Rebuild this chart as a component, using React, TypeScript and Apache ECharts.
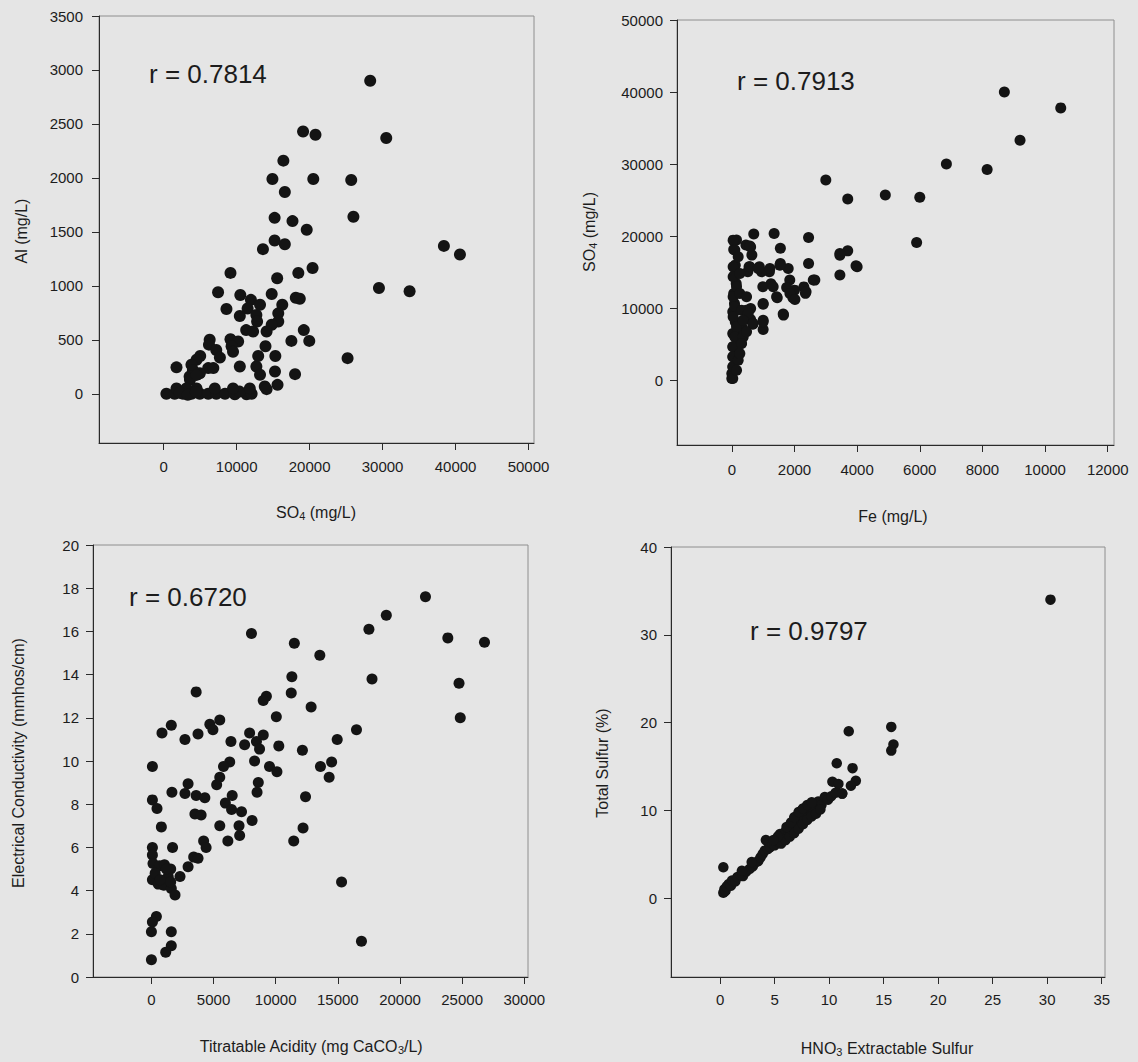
import React, { useEffect, useRef } from "react";
import * as echarts from "echarts";

// ---------- tick values ----------
const p1XTicks = [0, 10000, 20000, 30000, 40000, 50000];
const p1YTicks = [0, 500, 1000, 1500, 2000, 2500, 3000, 3500];
const p2XTicks = [0, 2000, 4000, 6000, 8000, 10000, 12000];
const p2YTicks = [0, 10000, 20000, 30000, 40000, 50000];
const p3XTicks = [0, 5000, 10000, 15000, 20000, 25000, 30000];
const p3YTicks = [0, 2, 4, 6, 8, 10, 12, 14, 16, 18, 20];
const p4XTicks = [0, 5, 10, 15, 20, 25, 30, 35];
const p4YTicks = [0, 10, 20, 30, 40];

// ---------- correlation labels ----------
const rLabels = ["r = 0.7814", "r = 0.7913", "r = 0.6720", "r = 0.9797"];

// ---------- panel 1: SO4 (x) vs Al (y) ----------
const p1Data = [
  [28300, 2900], [19100, 2430], [20800, 2400], [30500, 2370], [16400, 2160], [14900, 1990],
  [20500, 1990], [25700, 1980], [16600, 1870], [15200, 1630], [17650, 1600], [26000, 1640],
  [19600, 1520], [15200, 1420], [16600, 1385], [13600, 1340], [38400, 1370], [40600, 1290],
  [20400, 1165], [18450, 1120], [9150, 1120], [15550, 1070], [29500, 980], [33700, 950],
  [7450, 940], [10500, 915], [14800, 925], [18100, 890], [18650, 880], [8600, 785],
  [11950, 870], [13200, 825], [16250, 825], [11500, 790], [10430, 720], [12700, 730],
  [15700, 745], [12800, 670], [15700, 670], [14800, 640], [11300, 590], [12250, 577],
  [14100, 577], [19200, 590], [19950, 490], [17500, 490], [6300, 500], [6200, 455],
  [9150, 505], [10200, 485], [9300, 440], [7200, 405], [7700, 335], [5000, 350],
  [4500, 315], [3800, 270], [1750, 245], [4000, 220], [6100, 238], [6800, 238],
  [4950, 190], [3550, 160], [10430, 253], [12700, 253], [13950, 440], [12950, 350],
  [15300, 350], [15250, 207], [13200, 176], [18000, 182], [25200, 330], [13850, 68],
  [14100, 43], [15600, 83], [9500, 390], [3600, 130], [4500, 175],
  [365, 0], [1500, 0], [2650, 0], [3800, 0], [4950, 0], [6100, 0], [7200, 0], [8400, 0],
  [9750, -5], [11350, -5], [12050, 0], [10400, 20], [1750, 50], [3100, 50], [4500, 50],
  [7000, 50], [9500, 50], [11800, 50], [2200, 10], [3300, -10], [4400, 15],
];

// ---------- panel 2: Fe (x) vs SO4 (y) ----------
const p2Data = [
  [8700, 40000], [10500, 37800], [9200, 33300], [6850, 30000], [8150, 29250], [3000, 27800],
  [3700, 25150], [4900, 25700], [6000, 25400], [5900, 19100], [2450, 19800], [2450, 16200],
  [3450, 17350], [3700, 17950], [4000, 15750], [3450, 14600], [2600, 13900], [2300, 12950],
  [2350, 12050], [2000, 12500], [1950, 11450], [1650, 9030], [700, 20300], [1350, 20350],
  [1550, 18300], [1550, 16200], [1800, 15500], [1850, 13900], [1750, 12850], [1450, 11450],
  [1250, 13400], [1200, 15050], [950, 15050], [880, 15750], [990, 12960], [1000, 10550],
  [1000, 8330], [1000, 7050], [550, 15750], [600, 18500], [640, 17360], [450, 18750],
  [510, 15050], [600, 9950], [460, 9720], [600, 8430], [670, 7780], [350, 7180],
  [300, 5090], [190, 3700], [140, 6480], [150, 19450], [60, 18150], [110, 15970],
  [85, 14580], [140, 13430], [60, 12040], [85, 10650], [30, 9490], [110, 8100],
  [30, 6480], [30, 4630], [30, 3240], [30, 1850], [30, 230], [0, 925],
  [42, 19440], [96, 18060], [42, 15740], [42, 14350], [150, 12960], [42, 11580],
  [96, 10200], [42, 8800], [150, 7400], [96, 6000], [42, 4630], [42, 3240], [42, 1850],
  [0, 230], [256, 12040], [310, 9720], [362, 6000], [203, 2770], [150, 1390], [256, 14820],
  [203, 17130], [470, 11580], [523, 9260], [575, 18610], [575, 15740], [840, 15510],
  [1215, 15510], [1535, 15970], [1320, 12960], [1430, 11580], [1855, 12040], [2015, 11210],
  [2370, 12270], [2650, 13890], [1640, 9170], [362, 8330], [680, 7870], [470, 6710],
  [256, 3700], [310, 5090], [3450, 17590], [3965, 15880], [1000, 10650], [1000, 8100],
];

// ---------- panel 3: Titratable acidity (x) vs EC (y) ----------
const p3Data = [
  [22050, 17.6], [18900, 16.75], [17500, 16.1], [8050, 15.9], [23850, 15.7], [26800, 15.5],
  [11500, 15.45], [13550, 14.9], [11300, 13.9], [17750, 13.8], [24750, 13.6], [3600, 13.2],
  [11250, 13.15], [9250, 13.0], [9000, 12.8], [12850, 12.5], [10050, 12.05], [24850, 12.0],
  [5500, 11.9], [4700, 11.7], [4950, 11.45], [1600, 11.65], [850, 11.3], [3750, 11.25],
  [2700, 11.0], [6400, 10.9], [7900, 11.3], [9000, 11.2], [7500, 10.75], [8450, 10.9],
  [8700, 10.55], [8300, 10.0], [10250, 10.7], [12150, 10.5], [14950, 11.0], [16500, 11.45],
  [9500, 9.75], [10100, 9.5], [13600, 9.75], [14500, 9.95], [14300, 9.25], [80, 9.75],
  [6300, 9.95], [5800, 9.75], [5500, 9.25], [5250, 8.9], [2950, 8.95], [2700, 8.5],
  [3600, 8.4], [4300, 8.3], [1650, 8.55], [6500, 8.4], [8600, 9.0], [8500, 8.55],
  [12400, 8.35], [80, 8.2], [450, 7.8], [3500, 7.55], [4000, 7.5], [5950, 8.05],
  [6450, 7.75], [7250, 7.65], [8100, 7.25], [800, 6.95], [5500, 7.0], [7050, 7.0],
  [7100, 6.55], [12200, 6.9], [11450, 6.3], [6150, 6.3], [4200, 6.3], [4400, 6.0],
  [1700, 6.0], [80, 6.0], [80, 5.65], [130, 5.25], [650, 5.15], [1050, 5.2],
  [1550, 5.0], [2300, 4.65], [2950, 5.1], [3400, 5.55], [3750, 5.5], [80, 4.5],
  [550, 4.3], [1000, 4.25], [1600, 4.1], [1900, 3.8], [1350, 4.65], [1550, 4.4],
  [15300, 4.4], [400, 2.8], [80, 2.55], [0, 2.1], [1600, 2.1], [1600, 1.45],
  [1150, 1.15], [0, 0.8], [16900, 1.65], [300, 4.8], [700, 4.5], [1200, 5.0],
];

// ---------- panel 4: HNO3 extractable S (x) vs total S (y) ----------
const p4Data = [
  [30.3, 34.0], [15.7, 19.5], [11.8, 19.0], [15.9, 17.5], [15.7, 16.8], [10.7, 15.35],
  [12.15, 14.8], [10.3, 13.25], [10.85, 13.0], [12.45, 13.35], [12.0, 12.8], [11.2, 11.9],
  [0.3, 3.5], [0.3, 0.6], [0.4, 1.0], [0.5, 0.8], [0.6, 1.3], [0.8, 1.6], [1.0, 1.4],
  [1.1, 2.0], [1.4, 1.9], [1.6, 2.4], [1.9, 2.6], [2.1, 2.5], [2.4, 3.0], [2.7, 3.3],
  [3.0, 3.6], [3.2, 4.0], [3.5, 4.2], [3.7, 4.6], [3.9, 5.0], [4.1, 5.4], [4.2, 6.6],
  [4.4, 5.6], [4.6, 5.8], [4.8, 6.2], [5.0, 6.0], [5.2, 6.5], [5.4, 6.9], [5.5, 7.3],
  [5.7, 6.6], [5.9, 7.1], [6.0, 7.6], [6.2, 7.0], [6.3, 8.0], [6.5, 7.6], [6.6, 8.4],
  [6.8, 7.9], [6.9, 8.8], [7.0, 9.3], [7.1, 8.3], [7.3, 9.6], [7.4, 8.8], [7.5, 10.0],
  [7.7, 9.2], [7.9, 10.3], [8.0, 9.6], [8.2, 10.5], [8.4, 9.9], [8.6, 10.7], [8.8, 10.2],
  [9.0, 11.0], [9.3, 10.6], [9.6, 11.5], [9.9, 11.2], [10.2, 11.6], [10.6, 12.0], [11.2, 11.9],
  [5.6, 6.2], [6.0, 6.6], [6.4, 7.0], [6.8, 7.4], [7.2, 7.9], [7.6, 8.4], [8.0, 8.9],
  [8.4, 9.3], [8.8, 9.6], [9.2, 10.1], [6.1, 8.1], [6.5, 8.6], [6.8, 9.2], [7.2, 9.8],
  [7.6, 10.2], [8.0, 10.6], [8.4, 10.9], [5.3, 7.0], [4.9, 6.6], [2.0, 3.1], [2.9, 4.1],
];

const FONT = '"Liberation Sans", Arial, Helvetica, sans-serif';
const INK = "#1c1c1c";
const DOT = "#141414";
const BG = "#e5e5e5";

function makeX(i: number, min: number, max: number, ticks: number[], margin: number) {
  return {
    type: "value",
    gridIndex: i,
    min,
    max,
    axisLine: { show: true, onZero: false, lineStyle: { color: "#2a2a2a", width: 1 } },
    axisTick: { show: true, inside: false, length: 7, customValues: ticks, lineStyle: { color: "#2a2a2a" } },
    axisLabel: {
      customValues: ticks,
      formatter: (v: number) => String(v),
      margin,
      color: INK,
      fontSize: 15,
      fontFamily: FONT,
    },
    splitLine: { show: false },
  };
}

function makeY(i: number, min: number, max: number, ticks: number[], margin: number) {
  return {
    type: "value",
    gridIndex: i,
    min,
    max,
    axisLine: { show: true, onZero: false, lineStyle: { color: "#2a2a2a", width: 1 } },
    axisTick: { show: true, inside: false, length: 7, customValues: ticks, lineStyle: { color: "#2a2a2a" } },
    axisLabel: {
      customValues: ticks,
      formatter: (v: number) => String(v),
      margin,
      color: INK,
      fontSize: 15,
      fontFamily: FONT,
    },
    splitLine: { show: false },
  };
}

function title(x: number, y: number, text: string, rotate: boolean, rich?: boolean) {
  const base: any = {
    type: "text",
    x,
    y,
    rotation: rotate ? Math.PI / 2 : 0,
    silent: true,
    style: {
      text,
      fill: INK,
      fontSize: 16,
      fontFamily: FONT,
      align: "center",
      verticalAlign: "middle",
    },
  };
  if (rich) {
    base.style.rich = {
      n: { fontSize: 16, fontFamily: FONT, fill: INK },
      s: { fontSize: 11, fontFamily: FONT, fill: INK, padding: [8, 0, 0, 0] },
    };
  }
  return base;
}

function rText(x: number, y: number, text: string) {
  return {
    type: "text",
    x,
    y,
    silent: true,
    style: {
      text,
      fill: INK,
      fontSize: 26,
      fontFamily: FONT,
      align: "left",
      verticalAlign: "middle",
    },
  };
}

export default function App() {
  const ref = useRef<HTMLDivElement>(null);

  useEffect(() => {
    if (!ref.current) return;
    const chart = echarts.init(ref.current, undefined, { renderer: "svg" });
    const gridStyle = { show: true, borderColor: "#8e8e8e", borderWidth: 1, backgroundColor: "transparent" };
    const option: any = {
      animation: false,
      backgroundColor: BG,
      textStyle: { fontFamily: FONT },
      grid: [
        { ...gridStyle, left: 99, top: 16, width: 435, height: 427 },
        { ...gridStyle, left: 677, top: 20, width: 437, height: 425 },
        { ...gridStyle, left: 93, top: 545, width: 435, height: 432 },
        { ...gridStyle, left: 671, top: 547, width: 434, height: 430 },
      ],
      xAxis: [
        makeX(0, -8870, 50750, p1XTicks, 16),
        makeX(1, -1750, 12200, p2XTicks, 17),
        makeX(2, -4700, 30300, p3XTicks, 15),
        makeX(3, -4.5, 35.3, p4XTicks, 15),
      ],
      yAxis: [
        makeY(0, -456, 3500, p1YTicks, 16),
        makeY(1, -9000, 50000, p2YTicks, 14),
        makeY(2, 0, 20, p3YTicks, 14),
        makeY(3, -9, 40, p4YTicks, 14),
      ],
      series: [
        { type: "scatter", xAxisIndex: 0, yAxisIndex: 0, data: p1Data, symbolSize: 12, itemStyle: { color: DOT, opacity: 1 }, silent: true },
        { type: "scatter", xAxisIndex: 1, yAxisIndex: 1, data: p2Data, symbolSize: 11, itemStyle: { color: DOT, opacity: 1 }, silent: true },
        { type: "scatter", xAxisIndex: 2, yAxisIndex: 2, data: p3Data, symbolSize: 11, itemStyle: { color: DOT, opacity: 1 }, silent: true },
        { type: "scatter", xAxisIndex: 3, yAxisIndex: 3, data: p4Data, symbolSize: 10.5, itemStyle: { color: DOT, opacity: 1 }, silent: true },
      ],
      graphic: [
        rText(149, 74, rLabels[0]),
        rText(737, 81, rLabels[1]),
        rText(129, 597, rLabels[2]),
        rText(750, 631, rLabels[3]),
        title(21, 231, "Al (mg/L)", true),
        title(316, 512, "{n|SO}{s|4}{n| (mg/L)}", false, true),
        title(589, 232, "{n|SO}{s|4}{n| (mg/L)}", true, true),
        title(893, 516, "Fe (mg/L)", false),
        title(18, 763, "Electrical Conductivity (mmhos/cm)", true),
        title(311, 1046, "{n|Titratable Acidity (mg CaCO}{s|3}{n|/L)}", false, true),
        title(602, 763, "Total Sulfur (%)", true),
        title(887, 1048, "{n|HNO}{s|3}{n| Extractable Sulfur}", false, true),
      ],
    };
    chart.setOption(option);
    return () => chart.dispose();
  }, []);

  return (
    <div
      ref={ref}
      style={{ position: "absolute", left: 0, top: 0, width: 1138, height: 1062, background: BG }}
    />
  );
}
